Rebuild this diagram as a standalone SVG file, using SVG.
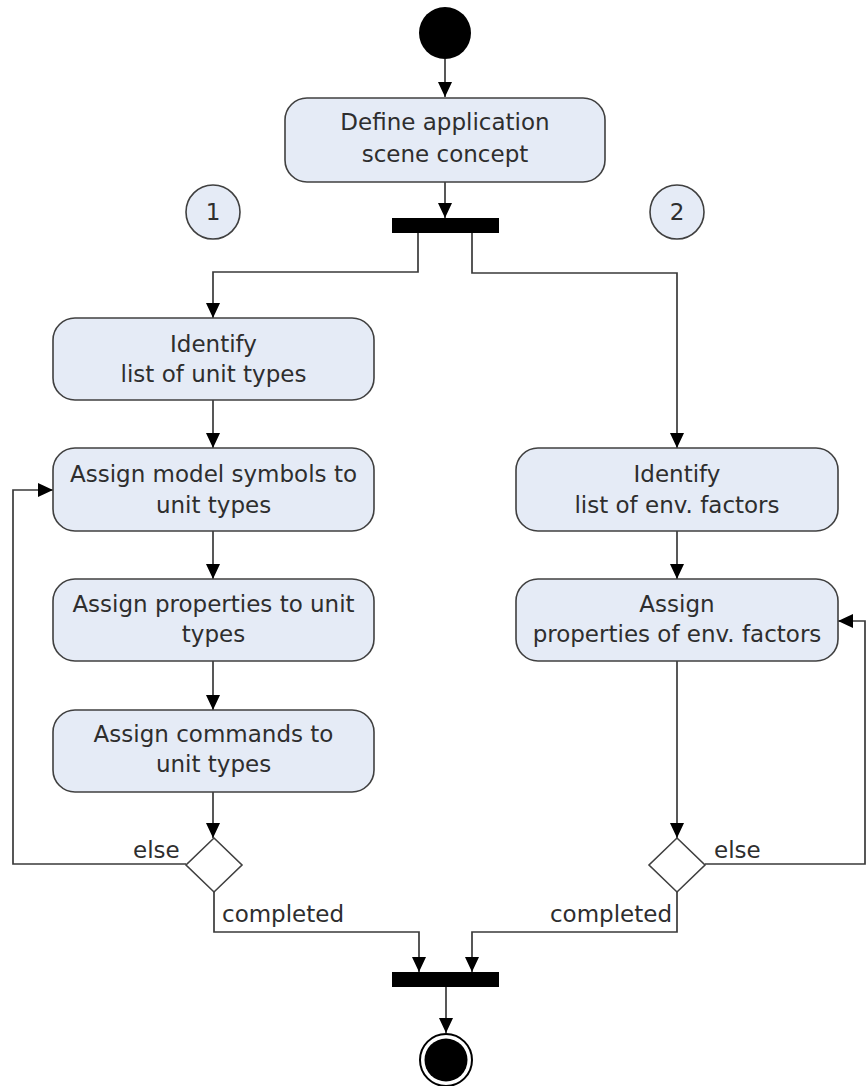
<svg xmlns="http://www.w3.org/2000/svg" width="866" height="1086" viewBox="0 0 866 1086">
  <style>
    .act { fill: #e5ebf6; stroke: #404040; stroke-width: 1.6; }
    .lbl { font-family: "DejaVu Sans", "Liberation Sans", sans-serif; font-size: 23px; fill: #2e2e2e; }
    .mid { text-anchor: middle; }
    .edge { fill: none; stroke: #3a3a3a; stroke-width: 1.7; }
    .bar { fill: #000; }
    .dec { fill: #fff; stroke: #404040; stroke-width: 1.6; }
  </style>
  <defs>
    <marker id="arrow" viewBox="0 0 15 14" refX="15" refY="7" markerWidth="15" markerHeight="14" markerUnits="userSpaceOnUse" orient="auto">
      <path d="M0,0 L15,7 L0,14 z" fill="#000"/>
    </marker>
  </defs>

  <!-- control flow -->
  <g id="connectors">
    <path class="edge" d="M445,59 V97" marker-end="url(#arrow)"/>
    <path class="edge" d="M445,182 V218" marker-end="url(#arrow)"/>
    <path class="edge" d="M418,233 V272 H213 V318" marker-end="url(#arrow)"/>
    <path class="edge" d="M472,233 V273 H677 V448" marker-end="url(#arrow)"/>
    <path class="edge" d="M213,400 V448" marker-end="url(#arrow)"/>
    <path class="edge" d="M213,531 V579" marker-end="url(#arrow)"/>
    <path class="edge" d="M213,661 V710" marker-end="url(#arrow)"/>
    <path class="edge" d="M213,792 V838" marker-end="url(#arrow)"/>
    <path class="edge" d="M186,864 H13 V490 H53" marker-end="url(#arrow)"/>
    <path class="edge" d="M214,892 V932 H419 V972" marker-end="url(#arrow)"/>
    <path class="edge" d="M677,531 V579" marker-end="url(#arrow)"/>
    <path class="edge" d="M677,661 V838" marker-end="url(#arrow)"/>
    <path class="edge" d="M705,864 H865 V621 H838" marker-end="url(#arrow)"/>
    <path class="edge" d="M677,892 V932 H472 V972" marker-end="url(#arrow)"/>
    <path class="edge" d="M446,987 V1033" marker-end="url(#arrow)"/>
  </g>

  <!-- guard labels -->
  <g id="guards" class="lbl">
    <text x="133" y="858">else</text>
    <text x="222" y="922">completed</text>
    <text x="714" y="858">else</text>
    <text x="672" y="922" text-anchor="end">completed</text>
  </g>

  <g id="start">
    <circle cx="445" cy="33" r="26" fill="#000"/>
  </g>

  <g id="define-concept">
    <rect class="act" x="285" y="98" width="320" height="84" rx="22"/>
    <text class="lbl mid" x="445" y="130">Define application</text>
    <text class="lbl mid" x="445" y="162">scene concept</text>
  </g>

  <g id="fork">
    <rect class="bar" x="392" y="218" width="107" height="15"/>
  </g>

  <g id="lane-1">
    <circle class="act" cx="213" cy="212" r="27"/>
    <text class="lbl mid" x="213" y="220">1</text>
  </g>

  <g id="lane-2">
    <circle class="act" cx="677" cy="212" r="27"/>
    <text class="lbl mid" x="677" y="220">2</text>
  </g>

  <g id="identify-unit-types">
    <rect class="act" x="53" y="318" width="321" height="82" rx="22"/>
    <text class="lbl mid" x="213.5" y="352">Identify</text>
    <text class="lbl mid" x="213.5" y="382">list of unit types</text>
  </g>

  <g id="assign-symbols">
    <rect class="act" x="53" y="448" width="321" height="83" rx="22"/>
    <text class="lbl mid" x="213.5" y="482">Assign model symbols to</text>
    <text class="lbl mid" x="213.5" y="513">unit types</text>
  </g>

  <g id="assign-unit-properties">
    <rect class="act" x="53" y="579" width="321" height="82" rx="22"/>
    <text class="lbl mid" x="213.5" y="612">Assign properties to unit</text>
    <text class="lbl mid" x="213.5" y="642">types</text>
  </g>

  <g id="assign-commands">
    <rect class="act" x="53" y="710" width="321" height="82" rx="22"/>
    <text class="lbl mid" x="213.5" y="742">Assign commands to</text>
    <text class="lbl mid" x="213.5" y="772">unit types</text>
  </g>

  <g id="decision-1">
    <path class="dec" d="M214,838 L242,865 L214,892 L186,865 z"/>
  </g>

  <g id="identify-env-factors">
    <rect class="act" x="516" y="448" width="322" height="83" rx="22"/>
    <text class="lbl mid" x="677" y="482">Identify</text>
    <text class="lbl mid" x="677" y="513">list of env. factors</text>
  </g>

  <g id="assign-env-properties">
    <rect class="act" x="516" y="579" width="322" height="82" rx="22"/>
    <text class="lbl mid" x="677" y="612">Assign</text>
    <text class="lbl mid" x="677" y="642">properties of env. factors</text>
  </g>

  <g id="decision-2">
    <path class="dec" d="M677,838 L705,865 L677,892 L649,865 z"/>
  </g>

  <g id="join">
    <rect class="bar" x="392" y="972" width="107" height="15"/>
  </g>

  <g id="end">
    <circle cx="446" cy="1060" r="26" fill="#fff" stroke="#000" stroke-width="2"/>
    <circle cx="446" cy="1060" r="21.5" fill="#000"/>
  </g>
</svg>
